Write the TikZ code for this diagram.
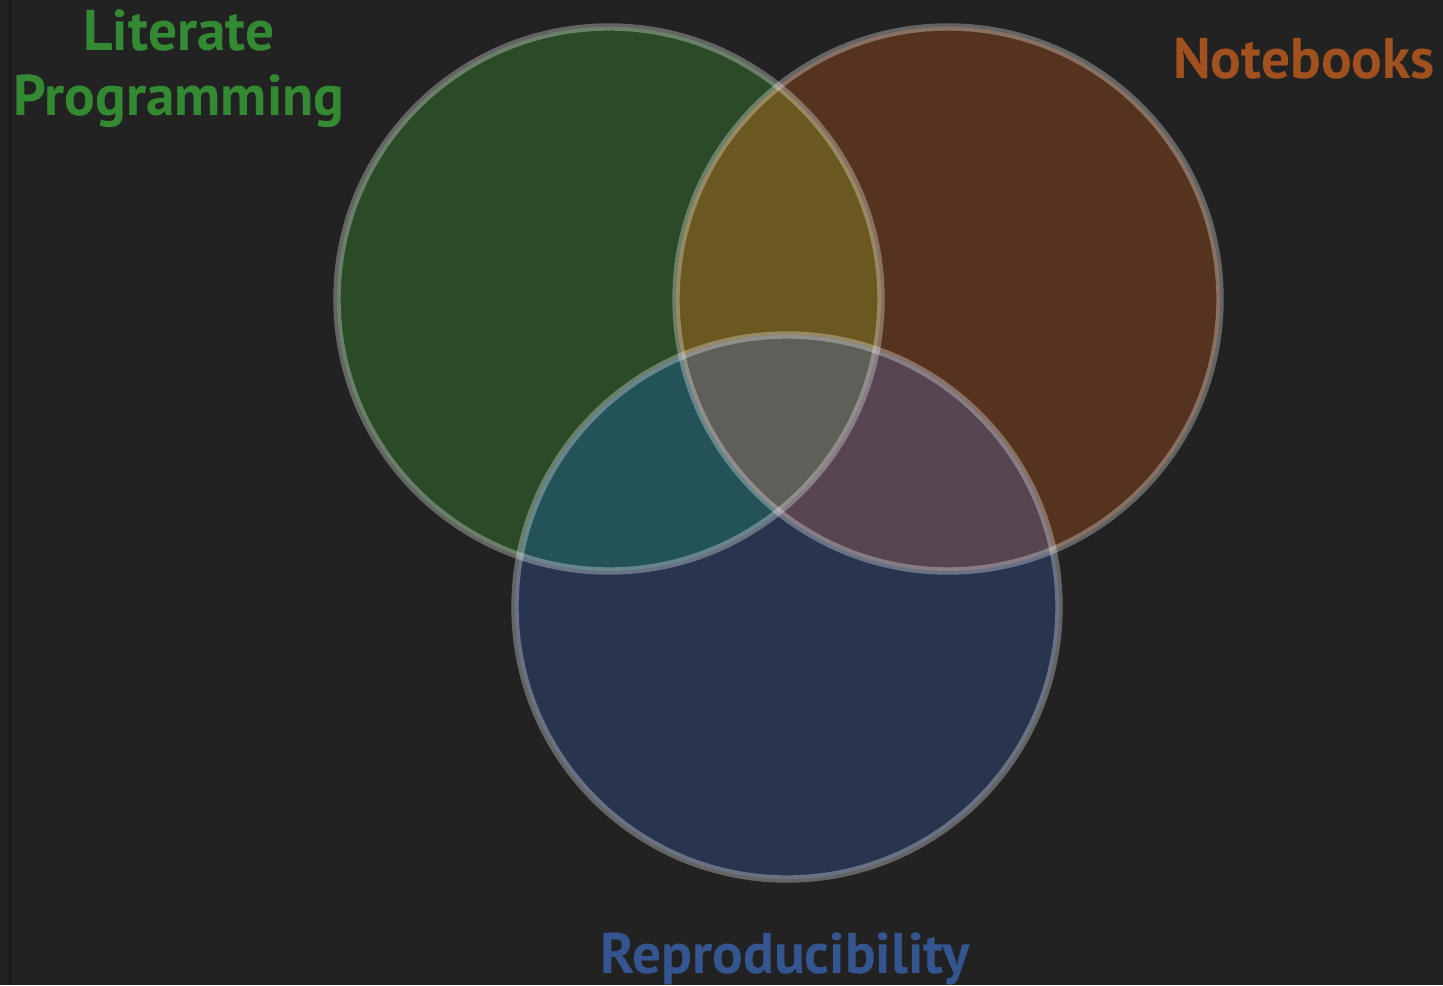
\documentclass[tikz,border=0pt]{standalone}
\usepackage{fontspec}
\setmainfont{PT Sans}
\usepackage{xcolor}

\definecolor{bgcol}{HTML}{222222}
\definecolor{litfill}{HTML}{2A4A28}
\definecolor{nbfill}{HTML}{55331F}
\definecolor{repfill}{HTML}{29354F}
\definecolor{litnb}{HTML}{6B5720}
\definecolor{litrep}{HTML}{245259}
\definecolor{nbrep}{HTML}{574551}
\definecolor{allthree}{HTML}{5F5E58}
\definecolor{littext}{HTML}{348A33}
\definecolor{nbtext}{HTML}{A0511E}
\definecolor{reptext}{HTML}{34558F}

\begin{document}
\begin{tikzpicture}[x=0.01cm,y=-0.01cm,
  rim/.style={draw=white,draw opacity=0.3,line width=2.1pt},
  title/.style={font=\bfseries\fontsize{16.3}{18.5}\selectfont,text centered,anchor=base}]

\useasboundingbox (0,0) rectangle (1443,985);
\clip (0,0) rectangle (1443,985);
\fill[bgcol] (0,0) rectangle (1443,985);
\draw[black,opacity=0.15,line width=1.2pt] (10,0) -- (10,985);

\coordinate(lit) at (609,299);
\coordinate(nb) at (948,299);
\coordinate(rep) at (787,607);

\fill[litfill] (lit) circle (272);
\fill[nbfill] (nb) circle (272);
\fill[repfill] (rep) circle (272);

\begin{scope}
\clip (lit) circle (272);
\fill[litnb] (nb) circle (272);
\fill[litrep] (rep) circle (272);
\end{scope}
\begin{scope}
\clip (nb) circle (272);
\fill[nbrep] (rep) circle (272);
\end{scope}
\begin{scope}
\clip (lit) circle (272);
\clip (nb) circle (272);
\fill[allthree] (rep) circle (272);
\end{scope}

\draw[rim] (lit) circle (272);
\draw[rim] (nb) circle (272);
\draw[rim] (rep) circle (272);

\node(lp) at (179,116)[title,text=littext,align=center]{Literate\\Programming};
\node(nbl) at (1304,79)[title,text=nbtext]{Notebooks};
\node(rpl) at (785,973)[title,text=reptext]{Reproducibility};

\end{tikzpicture}
\end{document}
